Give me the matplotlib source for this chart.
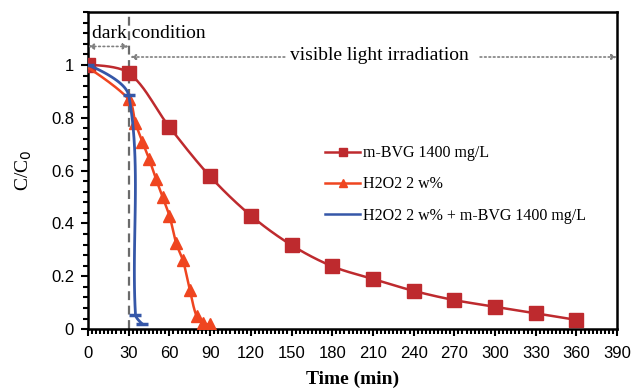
import numpy as np
import matplotlib
matplotlib.use('Agg')
import matplotlib.pyplot as plt
from matplotlib.ticker import MultipleLocator, FuncFormatter

# Dados
t_bvg = [0, 30, 60, 90, 120, 150, 180, 210, 240, 270, 300, 330, 360]
c_bvg = [1.0, 0.97, 0.765, 0.578, 0.43, 0.318, 0.238, 0.19, 0.145, 0.11, 0.085, 0.06, 0.035]

t_h2o2 = [0, 30, 35, 40, 45, 50, 55, 60, 65, 70, 75, 80, 85, 90]
c_h2o2 = [0.99, 0.87, 0.78, 0.71, 0.645, 0.57, 0.50, 0.43, 0.325, 0.26, 0.15, 0.05, 0.022, 0.018]

t_mix = [0, 30, 35, 40]
c_mix = [1.0, 0.885, 0.055, 0.02]

x_ticks = list(range(0, 391, 30))
y_ticks = [0, 0.2, 0.4, 0.6, 0.8, 1.0]

serif = 'Liberation Serif'
sans = 'Liberation Sans'


def suaviza(x, y, n=25, sx=1.356, sy=264.0):
    # Curva suave tipo Excel (Bezier), tangentes pesadas pela distância em pixels
    x = np.asarray(x, float)
    y = np.asarray(y, float)
    d = np.hypot(np.diff(x) * sx, np.diff(y) * sy)
    px, py = [x[0]], [y[0]]
    for i in range(len(x) - 1):
        x1, y1, x2, y2 = x[i], y[i], x[i + 1], y[i + 1]
        if i > 0:
            f = d[i] / (d[i - 1] + d[i]) / 3
            c1x, c1y = x1 + (x2 - x[i - 1]) * f, y1 + (y2 - y[i - 1]) * f
        else:
            c1x, c1y = x1, y1
        if i + 2 < len(x):
            f = d[i] / (d[i] + d[i + 1]) / 3
            c2x, c2y = x2 - (x[i + 2] - x1) * f, y2 - (y[i + 2] - y1) * f
        else:
            c2x, c2y = x2, y2
        s = np.linspace(0, 1, n)[1:]
        px.extend((1 - s) ** 3 * x1 + 3 * (1 - s) ** 2 * s * c1x + 3 * (1 - s) * s ** 2 * c2x + s ** 3 * x2)
        py.extend((1 - s) ** 3 * y1 + 3 * (1 - s) ** 2 * s * c1y + 3 * (1 - s) * s ** 2 * c2y + s ** 3 * y2)
    return px, py


fig = plt.figure(figsize=(6.33, 3.9), dpi=100)
ax = fig.add_axes([0.139, 0.156, 0.836, 0.813])

cor_bvg = '#BE2A2E'
cor_h2o2 = '#EF4520'
cor_mix = '#3557A8'

# Linha tracejada em t = 30
ax.axvline(30, color='#6b6b6b', ls=(0, (4, 2.5)), lw=1.6, zorder=1)

sx, sy = suaviza(t_bvg, c_bvg)
ax.plot(sx, sy, color=cor_bvg, lw=1.8, zorder=2)
ax.plot(t_bvg, c_bvg, 's', color=cor_bvg, ms=9.5, zorder=3)

sx, sy = suaviza(t_h2o2, c_h2o2)
ax.plot(sx, sy, color=cor_h2o2, lw=1.8, zorder=4)
ax.plot(t_h2o2[1:], c_h2o2[1:], '^', color=cor_h2o2, ms=8.5, zorder=5)

sx, sy = suaviza(t_mix, c_mix)
ax.plot(sx, sy, color=cor_mix, lw=2, zorder=6)
ax.plot(t_mix, c_mix, '_', color=cor_mix, ms=9, mew=2.5, zorder=7)

# Legenda manual
h1, = ax.plot([], [], color=cor_bvg, lw=1.8, marker='s', ms=6)
h2, = ax.plot([], [], color=cor_h2o2, lw=1.8, marker='^', ms=6)
h3, = ax.plot([], [], color=cor_mix, lw=1.8)
ax.legend([h1, h2, h3],
          ['m-BVG 1400 mg/L', 'H2O2 2 w%', 'H2O2 2 w% + m-BVG 1400 mg/L'],
          loc='upper left', bbox_to_anchor=(0.448, 0.58), frameon=False,
          borderpad=0, borderaxespad=0,
          prop={'family': serif, 'size': 11.5}, handlelength=2.2,
          labelspacing=0.95, handletextpad=0.2)

# Anotações
seta = dict(color='#808080', ls=':', lw=1.2, shrinkA=0, shrinkB=0, mutation_scale=8)
ax.annotate('', xy=(0, 1.07), xytext=(30, 1.07), arrowprops=dict(arrowstyle='<|-|>', **seta))
ax.text(3, 1.12, 'dark condition', family=serif, fontsize=14, va='center', ha='left')

ax.annotate('', xy=(31, 1.03), xytext=(145, 1.03), arrowprops=dict(arrowstyle='-|>', **seta))
ax.annotate('', xy=(390, 1.03), xytext=(289, 1.03), arrowprops=dict(arrowstyle='-|>', **seta))
ax.text(215, 1.035, 'visible light irradiation', family=serif, fontsize=14,
        va='center', ha='center')

ax.set_xlim(0, 390)
ax.set_ylim(0, 1.2)
ax.set_xticks(x_ticks)
ax.set_yticks(y_ticks)
ax.xaxis.set_minor_locator(MultipleLocator(3))
ax.yaxis.set_minor_locator(MultipleLocator(0.04))
ax.yaxis.set_major_formatter(FuncFormatter(lambda v, p: '%g' % v))
ax.tick_params(which='both', direction='out', width=1.5, labelsize=12)
ax.tick_params(which='major', length=5)
ax.tick_params(which='minor', length=3.5)
ax.tick_params(axis='x', which='major', pad=7)
ax.tick_params(axis='y', which='major', pad=5)
for lab in ax.get_xticklabels() + ax.get_yticklabels():
    lab.set_family(sans)
for s in ax.spines.values():
    s.set_linewidth(1.8)

ax.set_xlabel('Time (min)', family=serif, fontsize=14, fontweight='bold', labelpad=7)
ax.set_ylabel('C/C$_0$', family=serif, fontsize=14, labelpad=12)

fig.savefig('out.png', dpi=100)
